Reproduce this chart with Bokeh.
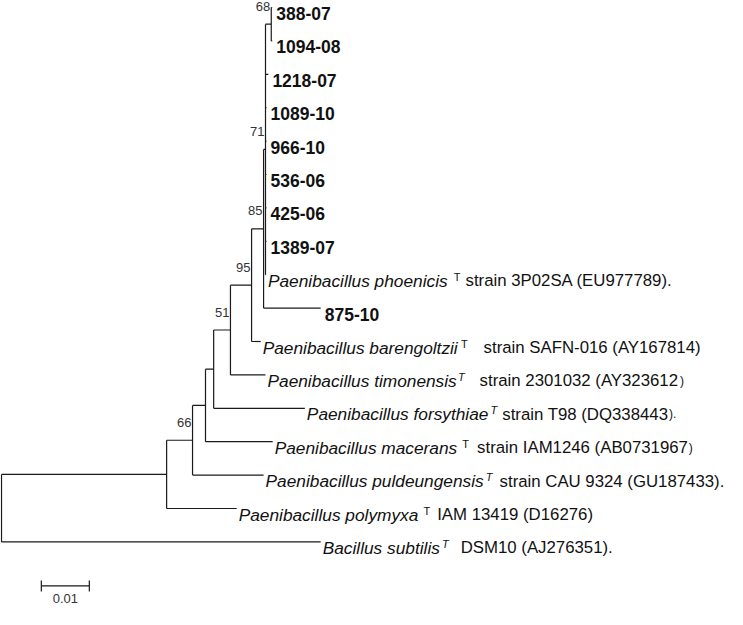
from bokeh.plotting import figure
from bokeh.models import Range1d, ColumnDataSource
from bokeh.core.properties import value
from bokeh.embed import file_html
from bokeh.resources import INLINE

# ---------------- tree data ----------------
node_names = ["root", "A", "Bacillus subtilis", "B", "Paenibacillus polymyxa",
              "C", "Paenibacillus puldeungensis", "D", "Paenibacillus macerans",
              "E", "Paenibacillus forsythiae", "F", "Paenibacillus timonensis",
              "G", "Paenibacillus barengoltzii", "H", "875-10", "I",
              "1218-07", "1089-10", "966-10", "536-06", "425-06", "1389-07",
              "Paenibacillus phoenicis", "388-07", "1094-08"]
node_parent = [-1, 0, 0, 1, 1, 3, 3, 5, 5, 7, 7, 9, 9, 11, 11, 13, 13, 15,
               15, 15, 15, 15, 15, 15, 15, 17, 17]
branch_length = [0.0, 0.0344, 0.0665, 0.0054, 0.0146, 0.0027, 0.0148, 0.0017,
                 0.0140, 0.0035, 0.0190, 0.0044, 0.0073, 0.0025, 0.0019,
                 0.0004, 0.0119, 0.0012, 0.0006, 0.0002, 0.0002, 0.0002,
                 0.0002, 0.0002, 0.0001, 0.0002, 0.0002]
bootstrap = [None, None, None, 66, None, None, None, None, None, 51, None, 95,
             None, 85, None, 71, None, 68, None, None, None, None, None, None,
             None, None, None]
leaf_order = ["388-07", "1094-08", "1218-07", "1089-10", "966-10", "536-06",
              "425-06", "1389-07", "Paenibacillus phoenicis", "875-10",
              "Paenibacillus barengoltzii", "Paenibacillus timonensis",
              "Paenibacillus forsythiae", "Paenibacillus macerans",
              "Paenibacillus puldeungensis", "Paenibacillus polymyxa",
              "Bacillus subtilis"]
isolates = ["388-07", "1094-08", "1218-07", "1089-10", "966-10", "536-06",
            "425-06", "1389-07", "875-10"]
species = ["Paenibacillus phoenicis", "Paenibacillus barengoltzii",
           "Paenibacillus timonensis", "Paenibacillus forsythiae",
           "Paenibacillus macerans", "Paenibacillus puldeungensis",
           "Paenibacillus polymyxa", "Bacillus subtilis"]
type_mark_italic = [False, False, True, True, False, True, False, True]
strain_text = ["strain 3P02SA (EU977789).", "strain SAFN-016 (AY167814)",
               "strain 2301032 (AY323612", "strain T98 (DQ338443",
               "strain IAM1246 (AB0731967", "strain CAU 9324 (GU187433).",
               "IAM 13419 (D16276)", "DSM10 (AJ276351)."]
strain_tail = ["", "", ")", ").", ")", "", "", ""]
scale_value = 0.01

# ---------------- styles (px) ----------------
gap_before_T = [6, 3, 1, 2, 5, 2, 5, 2]
gap_after_T = [5, 16, 15, 5, 8, 7, 7, 12]
PX_PER_UNIT = 4800.0
LEAF_PX = 33.4
TOP_PX = 7.0
ROOT_PX = 1.0
W, H = 727, 609
FONT = "Liberation Sans"
LINE_COLOR = "#1a1a1a"

# Arial / Liberation Sans advance widths (1/1000 em)
ADV = {' ': 278, '(': 333, ')': 333, '.': 278, '-': 333,
       'A': 667, 'B': 667, 'C': 722, 'D': 722, 'E': 667, 'F': 611, 'G': 778,
       'I': 278, 'J': 500, 'K': 667, 'L': 556, 'M': 833, 'N': 722, 'P': 667,
       'Q': 778, 'S': 667, 'T': 611, 'U': 722, 'Y': 667,
       'a': 556, 'b': 556, 'c': 500, 'd': 556, 'e': 556, 'f': 278, 'g': 556,
       'h': 556, 'i': 222, 'j': 222, 'k': 500, 'l': 222, 'm': 833, 'n': 556,
       'o': 556, 'p': 556, 'q': 556, 'r': 333, 's': 500, 't': 278, 'u': 556,
       'v': 500, 'w': 722, 'x': 500, 'y': 500, 'z': 500}


def tw(s, size):
    return sum(ADV.get(c, 556) for c in s) / 1000.0 * size


# ---------------- layout of the tree ----------------
n = len(node_names)
xs = [0.0] * n
for i in range(1, n):
    xs[i] = xs[node_parent[i]] + branch_length[i]
children = {i: [] for i in range(n)}
for i in range(1, n):
    children[node_parent[i]].append(i)
ys = [0.0] * n
for i in range(n - 1, -1, -1):
    if children[i]:
        cy = [ys[c] for c in children[i]]
        ys[i] = (min(cy) + max(cy)) / 2.0
    else:
        ys[i] = float(leaf_order.index(node_names[i]))

idx = {name: i for i, name in enumerate(node_names)}

x0, x1, y0, y1 = [], [], [], []
for i in range(1, n):
    p_ = node_parent[i]
    x0.append(xs[p_]); x1.append(xs[i]); y0.append(ys[i]); y1.append(ys[i])
for i in range(n):
    if children[i]:
        cy = [ys[c] for c in children[i]]
        x0.append(xs[i]); x1.append(xs[i]); y0.append(min(cy)); y1.append(max(cy))

x_lo = -ROOT_PX / PX_PER_UNIT
x_hi = x_lo + W / PX_PER_UNIT
y_top = -TOP_PX / LEAF_PX
y_bot = y_top + H / LEAF_PX

p = figure(width=W, height=H, x_range=Range1d(x_lo, x_hi),
           y_range=Range1d(y_bot, y_top), output_backend="svg",
           toolbar_location=None, x_axis_type=None, y_axis_type=None,
           min_border=0)
p.outline_line_color = None
p.background_fill_color = "white"
p.border_fill_color = "white"

p.segment(x0=x0, y0=y0, x1=x1, y1=y1, line_color=LINE_COLOR, line_width=1.2)

# isolates (bold)
p.text(x=[xs[idx[s]] for s in isolates], y=[ys[idx[s]] for s in isolates],
       text=isolates, x_offset=4, y_offset=6, text_baseline="alphabetic",
       text_align="left", text_font=value(FONT), text_font_style="bold",
       text_font_size="17.5px", text_color="#111111")

# species labels
NAME_SIZE = 17.3
STR_SIZE = 16.8
T_SIZE = 11.0
TAIL_SIZE = 12.0
groups = {k: dict(x=[], y=[], text=[], off=[]) for k in
          ["name", "Tup", "Tit", "strain", "tail"]}
for k, s in enumerate(species):
    i = idx[s]
    off = 2.0
    groups["name"]["x"].append(xs[i]); groups["name"]["y"].append(ys[i])
    groups["name"]["text"].append(s); groups["name"]["off"].append(off)
    toff = off + tw(s, NAME_SIZE) + gap_before_T[k]
    g = "Tit" if type_mark_italic[k] else "Tup"
    groups[g]["x"].append(xs[i]); groups[g]["y"].append(ys[i])
    groups[g]["text"].append("T"); groups[g]["off"].append(toff)
    soff = toff + tw("T", T_SIZE) + gap_after_T[k]
    groups["strain"]["x"].append(xs[i]); groups["strain"]["y"].append(ys[i])
    groups["strain"]["text"].append(strain_text[k]); groups["strain"]["off"].append(soff)
    if strain_tail[k]:
        groups["tail"]["x"].append(xs[i]); groups["tail"]["y"].append(ys[i])
        groups["tail"]["text"].append(strain_tail[k])
        groups["tail"]["off"].append(soff + tw(strain_text[k], STR_SIZE) + 0.5)

specs = {"name": ("italic", NAME_SIZE, 6),
         "Tup": ("normal", T_SIZE, 2),
         "Tit": ("italic", T_SIZE, 2),
         "strain": ("normal", STR_SIZE, 6),
         "tail": ("normal", TAIL_SIZE, 6)}
for g, (style, size, yoff) in specs.items():
    d = groups[g]
    src = ColumnDataSource(dict(x=d["x"], y=d["y"], text=d["text"], off=d["off"]))
    p.text(x="x", y="y", text="text", x_offset="off", y_offset=yoff,
           source=src, text_baseline="alphabetic", text_align="left",
           text_font=value(FONT), text_font_style=style,
           text_font_size=f"{size}px", text_color="#111111")

# bootstrap values
bi = [i for i in range(n) if bootstrap[i] is not None]
p.text(x=[xs[i] for i in bi], y=[ys[i] for i in bi],
       text=[str(bootstrap[i]) for i in bi], x_offset=-1, y_offset=-18,
       text_baseline="middle", text_align="right", text_font=value(FONT),
       text_font_size="13px", text_color="#333333")

# scale bar
sb_x = 0.0083
sb_y = (len(leaf_order) - 1) + 44.0 / LEAF_PX
tick = 5.5 / LEAF_PX
p.segment(x0=[sb_x, sb_x, sb_x + scale_value],
          y0=[sb_y, sb_y - tick, sb_y - tick],
          x1=[sb_x + scale_value, sb_x, sb_x + scale_value],
          y1=[sb_y, sb_y + tick, sb_y + tick],
          line_color=LINE_COLOR, line_width=1.2)
p.text(x=[sb_x + scale_value / 2], y=[sb_y], text=[str(scale_value)],
       y_offset=13, text_baseline="middle", text_align="center",
       text_font=value(FONT), text_font_size="13px", text_color="#333333")

open("out.html", "w").write(file_html(p, INLINE))
